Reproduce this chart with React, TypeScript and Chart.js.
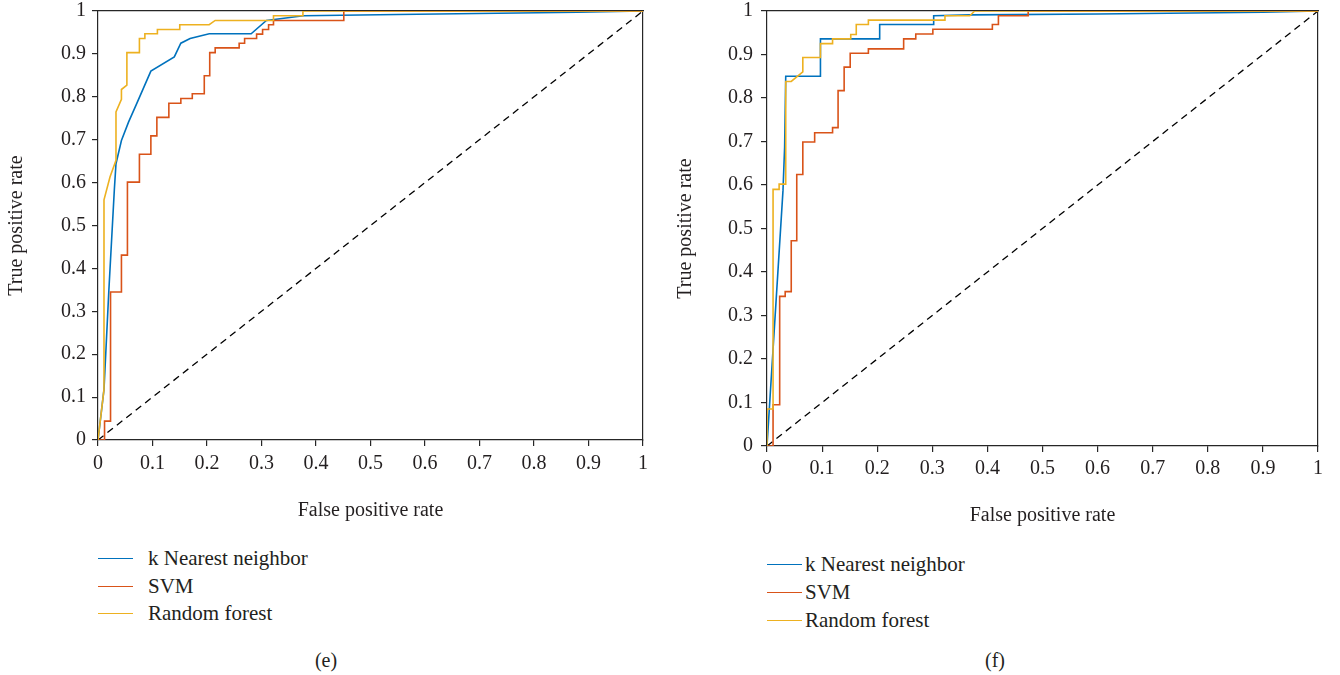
import React, { useEffect, useRef } from "react";
import { Chart, registerables } from "chart.js";

Chart.register(...registerables);

// ---------- shared labels / ticks ----------
const TICK_VALUES = [0, 0.1, 0.2, 0.3, 0.4, 0.5, 0.6, 0.7, 0.8, 0.9, 1];
const TICK_LABELS = ["0", "0.1", "0.2", "0.3", "0.4", "0.5", "0.6", "0.7", "0.8", "0.9", "1"];
const SERIES_NAMES = ["k Nearest neighbor", "SVM", "Random forest"];
const SERIES_COLORS = ["#0072BD", "#D95319", "#EDB120"];
const X_TITLE = "False positive rate";
const Y_TITLE = "True positive rate";
const DIAG_X = [0, 1];
const DIAG_Y = [0, 1];

// ---------- panel (e) ----------
const E_KNN_FPR = [0, 0.011, 0.02, 0.03, 0.033, 0.043, 0.056, 0.071, 0.097, 0.14, 0.152, 0.169, 0.204, 0.281, 0.309, 0.377, 0.55, 0.88, 1];
const E_KNN_TPR = [0, 0.118, 0.351, 0.584, 0.644, 0.698, 0.741, 0.784, 0.86, 0.893, 0.925, 0.936, 0.947, 0.947, 0.978, 0.989, 0.992, 0.997, 1];

const E_SVM_FPR = [0, 0.012, 0.012, 0.023, 0.023, 0.043, 0.043, 0.054, 0.054, 0.076, 0.076, 0.097, 0.097, 0.108, 0.108, 0.13, 0.13, 0.152, 0.152, 0.173, 0.173, 0.195, 0.195, 0.205, 0.205, 0.215, 0.215, 0.259, 0.259, 0.269, 0.269, 0.291, 0.291, 0.302, 0.302, 0.313, 0.313, 0.322, 0.322, 0.451, 0.451, 1];
const E_SVM_TPR = [0, 0, 0.044, 0.044, 0.345, 0.345, 0.431, 0.431, 0.601, 0.601, 0.666, 0.666, 0.709, 0.709, 0.752, 0.752, 0.785, 0.785, 0.796, 0.796, 0.807, 0.807, 0.849, 0.849, 0.903, 0.903, 0.914, 0.914, 0.925, 0.925, 0.936, 0.936, 0.946, 0.946, 0.957, 0.957, 0.968, 0.968, 0.978, 0.978, 1, 1];

const E_RF_FPR = [0, 0.011, 0.011, 0.022, 0.033, 0.033, 0.043, 0.043, 0.053, 0.053, 0.076, 0.076, 0.086, 0.086, 0.109, 0.109, 0.15, 0.15, 0.204, 0.215, 0.322, 0.322, 0.376, 0.376, 1];
const E_RF_TPR = [0, 0.118, 0.56, 0.613, 0.652, 0.765, 0.794, 0.817, 0.827, 0.903, 0.903, 0.936, 0.936, 0.947, 0.947, 0.957, 0.957, 0.968, 0.968, 0.978, 0.978, 0.989, 0.989, 1, 1];

// ---------- panel (f) ----------
const F_KNN_FPR = [0, 0.029, 0.032, 0.034, 0.097, 0.097, 0.2045, 0.2045, 0.3025, 0.3025, 0.37, 0.6, 0.9, 1];
const F_KNN_TPR = [0, 0.587, 0.687, 0.85, 0.85, 0.936, 0.936, 0.969, 0.969, 0.989, 0.991, 0.993, 0.997, 1];

const F_SVM_FPR = [0, 0.011, 0.011, 0.023, 0.023, 0.033, 0.033, 0.044, 0.044, 0.054, 0.054, 0.065, 0.065, 0.0865, 0.0865, 0.119, 0.119, 0.129, 0.129, 0.14, 0.14, 0.151, 0.151, 0.184, 0.184, 0.248, 0.248, 0.27, 0.27, 0.301, 0.301, 0.409, 0.409, 0.42, 0.42, 0.474, 0.474, 1];
const F_SVM_TPR = [0, 0, 0.095, 0.095, 0.344, 0.344, 0.355, 0.355, 0.472, 0.472, 0.624, 0.624, 0.699, 0.699, 0.72, 0.72, 0.732, 0.732, 0.817, 0.817, 0.871, 0.871, 0.903, 0.903, 0.913, 0.913, 0.936, 0.936, 0.947, 0.947, 0.958, 0.958, 0.969, 0.969, 0.989, 0.989, 1, 1];

const F_RF_FPR = [0, 0, 0.011, 0.011, 0.022, 0.022, 0.034, 0.034, 0.044, 0.065, 0.065, 0.097, 0.097, 0.119, 0.119, 0.152, 0.152, 0.162, 0.162, 0.184, 0.184, 0.323, 0.323, 0.368, 0.377, 1];
const F_RF_TPR = [0, 0.085, 0.085, 0.59, 0.59, 0.602, 0.602, 0.838, 0.838, 0.86, 0.893, 0.893, 0.925, 0.925, 0.936, 0.936, 0.946, 0.946, 0.969, 0.969, 0.979, 0.979, 0.989, 0.989, 1, 1];

const FONT = "'Liberation Serif', 'Times New Roman', serif";
const TEXT_COLOR = "#231F20";
const AXIS_COLOR = "#262626";

type Geo = {
  left: number; width: number; height: number;
  plotL: number; plotR: number; plotT: number; plotB: number;
  xTitlePad: number; yTitlePad: number; yTickPad: number; xTickPad: number;
};

const zip = (xs: number[], ys: number[]) => xs.map((x, i) => ({ x, y: ys[i] }));

const zeroPad = (s: any) => {
  s.paddingTop = 0;
  s.paddingBottom = 0;
  s.paddingLeft = 0;
  s.paddingRight = 0;
};

function Panel({ geo, series }: { geo: Geo; series: { fpr: number[]; tpr: number[] }[] }) {
  const ref = useRef<HTMLCanvasElement | null>(null);
  useEffect(() => {
    if (!ref.current) return;
    const tickCb = (v: number) => {
      const i = TICK_VALUES.findIndex((t) => Math.abs(t - v) < 1e-6);
      return i >= 0 ? TICK_LABELS[i] : "";
    };
    const setTicks = (scale: any) => {
      scale.ticks = TICK_VALUES.map((v) => ({ value: v }));
    };
    const datasets: any[] = [
      {
        label: "diag",
        data: zip(DIAG_X, DIAG_Y),
        borderColor: "#000000",
        borderWidth: 1.3,
        borderDash: [7, 5],
        pointRadius: 0,
        order: 4,
      },
    ];
    const orders = [2, 1, 0];
    series.forEach((s, i) => {
      datasets.push({
        label: SERIES_NAMES[i],
        data: zip(s.fpr, s.tpr),
        borderColor: SERIES_COLORS[i],
        borderWidth: 1.6,
        pointRadius: 0,
        tension: 0,
        order: orders[i],
      });
    });
    const chart = new Chart(ref.current, {
      type: "line",
      data: { datasets },
      options: {
        responsive: false,
        animation: false,
        devicePixelRatio: 1,
        layout: {
          padding: { left: 0, top: geo.plotT, right: geo.width - geo.plotR, bottom: 0 },
        },
        plugins: { legend: { display: false }, tooltip: { enabled: false } },
        scales: {
          x: {
            type: "linear",
            min: 0,
            max: 1,
            position: "bottom",
            afterBuildTicks: setTicks,
            afterFit: (s: any) => { s.height = geo.height - geo.plotB; zeroPad(s); },
            ticks: { callback: tickCb as any, autoSkip: false, maxRotation: 0, color: TEXT_COLOR, padding: geo.xTickPad, font: { family: FONT, size: 20 } },
            grid: { display: true, drawOnChartArea: false, drawTicks: true, tickLength: 6, color: AXIS_COLOR, lineWidth: 1.2 },
            border: { display: true, color: AXIS_COLOR, width: 1.2 },
            title: { display: true, text: X_TITLE, color: TEXT_COLOR, font: { family: FONT, size: 20 }, padding: { top: 0, bottom: geo.xTitlePad } },
          },
          y: {
            type: "linear",
            min: 0,
            max: 1,
            position: "left",
            afterBuildTicks: setTicks,
            afterFit: (s: any) => { s.width = geo.plotL; zeroPad(s); },
            ticks: { callback: tickCb as any, autoSkip: false, color: TEXT_COLOR, padding: geo.yTickPad, font: { family: FONT, size: 20 } },
            grid: { display: true, drawOnChartArea: false, drawTicks: true, tickLength: 6, color: AXIS_COLOR, lineWidth: 1.2 },
            border: { display: true, color: AXIS_COLOR, width: 1.2 },
            title: { display: true, text: Y_TITLE, color: TEXT_COLOR, font: { family: FONT, size: 20 }, padding: { top: geo.yTitlePad, bottom: 0 } },
          },
          x2: {
            type: "linear",
            min: 0,
            max: 1,
            position: "top",
            afterFit: (s: any) => { s.height = 0; zeroPad(s); },
            ticks: { display: false },
            grid: { display: false },
            border: { display: true, color: AXIS_COLOR, width: 1.2 },
          },
          y2: {
            type: "linear",
            min: 0,
            max: 1,
            position: "right",
            afterFit: (s: any) => { s.width = 0; zeroPad(s); },
            ticks: { display: false },
            grid: { display: false },
            border: { display: true, color: AXIS_COLOR, width: 1.2 },
          },
        },
      } as any,
    });
    return () => chart.destroy();
  }, []);
  return (
    <canvas
      ref={ref}
      width={geo.width}
      height={geo.height}
      style={{ position: "absolute", left: geo.left, top: 0, width: geo.width, height: geo.height }}
    />
  );
}

function Legend({ x, textX, lineW, rows }: { x: number; textX: number; lineW: number; rows: number[] }) {
  return (
    <>
      {SERIES_NAMES.map((name, i) => (
        <div
          key={name}
          style={{
            position: "absolute",
            left: x,
            top: rows[i] - 14,
            height: 28,
            display: "flex",
            alignItems: "center",
            whiteSpace: "nowrap",
          }}
        >
          <div style={{ width: lineW, height: 0, borderTop: `1.5px solid ${SERIES_COLORS[i]}` }} />
          <div style={{ marginLeft: textX - x - lineW, fontFamily: FONT, fontSize: 21, color: TEXT_COLOR, lineHeight: "28px" }}>
            {name}
          </div>
        </div>
      ))}
    </>
  );
}

const GEO_E: Geo = {
  left: 0, width: 670, height: 540,
  plotL: 98, plotR: 643, plotT: 11, plotB: 440,
  xTitlePad: 17, yTitlePad: 5, yTickPad: 6, xTickPad: 6,
};
const GEO_F: Geo = {
  left: 670, width: 670, height: 540,
  plotL: 97, plotR: 648, plotT: 11, plotB: 446,
  xTitlePad: 12, yTitlePad: 4, yTickPad: 8, xTickPad: 5,
};

export default function App() {
  const seriesE = [
    { fpr: E_KNN_FPR, tpr: E_KNN_TPR },
    { fpr: E_SVM_FPR, tpr: E_SVM_TPR },
    { fpr: E_RF_FPR, tpr: E_RF_TPR },
  ];
  const seriesF = [
    { fpr: F_KNN_FPR, tpr: F_KNN_TPR },
    { fpr: F_SVM_FPR, tpr: F_SVM_TPR },
    { fpr: F_RF_FPR, tpr: F_RF_TPR },
  ];
  return (
    <div style={{ position: "absolute", left: 0, top: 0, width: 1340, height: 675, background: "#ffffff", overflow: "hidden" }}>
      <Panel geo={GEO_E} series={seriesE} />
      <Panel geo={GEO_F} series={seriesF} />
      <Legend x={98} textX={148} lineW={35} rows={[558, 586, 613]} />
      <Legend x={767} textX={805} lineW={35} rows={[564, 592, 620]} />
      <div style={{ position: "absolute", left: 276, width: 100, top: 646, textAlign: "center", fontFamily: FONT, fontSize: 20, color: TEXT_COLOR, lineHeight: "28px" }}>(e)</div>
      <div style={{ position: "absolute", left: 945, width: 100, top: 646, textAlign: "center", fontFamily: FONT, fontSize: 20, color: TEXT_COLOR, lineHeight: "28px" }}>(f)</div>
    </div>
  );
}
